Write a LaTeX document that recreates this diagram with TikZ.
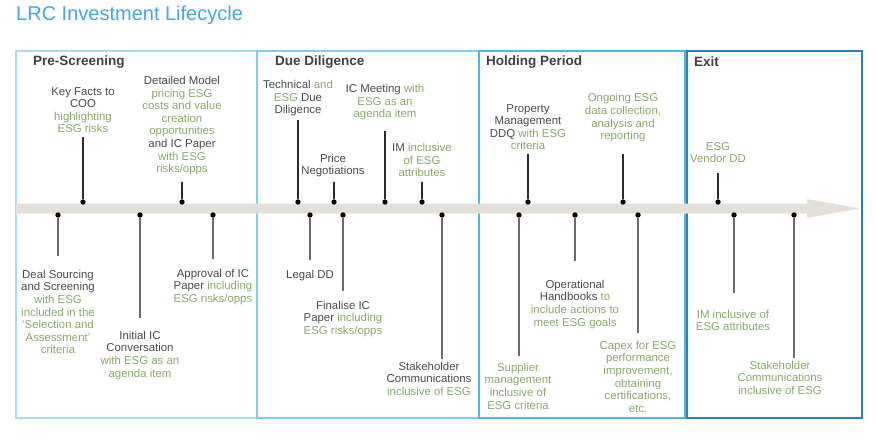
\documentclass[tikz,border=0pt]{standalone}
\usepackage{fontspec}
\setmainfont{Liberation Sans}
\definecolor{titleblue}{HTML}{3DA9E6}
\definecolor{headgray}{HTML}{404040}
\definecolor{txtgray}{HTML}{4A4A4A}
\definecolor{esg}{HTML}{86A767}
\definecolor{bandgray}{HTML}{E2E0D8}
\definecolor{stemdark}{HTML}{2B2B2B}
\definecolor{stemgray}{HTML}{6A6A6A}
\definecolor{psblue}{HTML}{A6DBF6}
\definecolor{ddblue}{HTML}{7FCDF4}
\definecolor{hpblue}{HTML}{4FB6EC}
\definecolor{exblue}{HTML}{2A80BF}
\newcommand{\g}[1]{\textcolor{esg}{#1}}

\begin{document}
\begin{tikzpicture}[x=1pt,y=-1pt,
  lbl/.style={align=center,inner sep=0pt,outer sep=0pt,text=txtgray,font=\fontsize{11.4}{12.6}\selectfont},
  dot/.style={circle,fill=black,inner sep=0pt,minimum size=5.4pt},
  upstem/.style={draw=stemdark,line width=1.3pt},
  downstem/.style={draw=stemgray,line width=1.5pt},
  phase/.style={anchor=west,inner sep=0pt,text=headgray,font=\bfseries\fontsize{13.5}{16}\selectfont}]
  \useasboundingbox (0,0) rectangle (875,441);
  \node[anchor=base west,inner sep=0pt,text=titleblue,font=\fontsize{20}{24}\selectfont] (title) at (16,21) {LRC Investment Lifecycle};

  \draw[psblue,line width=2pt] (16,51) rectangle (257,418);
  \draw[ddblue,line width=2pt] (257,51) rectangle (479,418);
  \draw[hpblue,line width=2pt] (479,51) rectangle (685,418);
  \draw[exblue,line width=2.2pt] (687,51) rectangle (862,418);
  \node[phase] (hps) at (33,62) {Pre-Screening};
  \node[phase] (hdd) at (275,62) {Due Diligence};
  \node[phase] (hhp) at (486,62) {Holding Period};
  \node[phase] (hex) at (694,62) {Exit};

  \fill[bandgray] (16,203.5) -- (807,203.5) -- (807,199) -- (860,208.5) -- (807,218) -- (807,213.5) -- (16,213.5) -- cycle;

  \node[lbl,anchor=south] (kf) at (83,133) {Key Facts to\\COO\\\g{highlighting}\\\g{ESG risks}};
  \node[lbl,anchor=south] (dm) at (182,175) {Detailed Model\\\g{pricing ESG}\\\g{costs and value}\\\g{creation}\\\g{opportunities}\\and IC Paper\\\g{with ESG}\\\g{risks/opps}};
  \node[lbl,anchor=south] (tdd) at (298,116) {Technical \g{and}\\\g{ESG} Due\\Diligence};
  \node[lbl,anchor=south] (pn) at (333,177) {Price\\Negotiations};
  \node[lbl,anchor=south] (icm) at (385,120) {IC Meeting \g{with}\\\g{ESG as an}\\\g{agenda item}};
  \node[lbl,anchor=south] (im) at (422,177) {IM \g{inclusive}\\\g{of ESG}\\\g{attributes}};
  \node[lbl,anchor=south] (pm) at (528,150) {Property\\Management\\DDQ \g{with ESG}\\\g{criteria}};
  \node[lbl,anchor=south,text=esg] (og) at (623,142) {Ongoing ESG\\data collection,\\analysis and\\reporting};
  \node[lbl,anchor=south,text=esg] (vdd) at (718,163) {ESG\\Vendor DD};

  \node[lbl,anchor=north] (ds) at (58,270) {Deal Sourcing\\and Screening\\\g{with ESG}\\\g{included in the}\\\g{`Selection and}\\\g{Assessment'}\\\g{criteria}};
  \node[lbl,anchor=north] (iic) at (140,331) {Initial IC\\Conversation\\\g{with ESG as an}\\\g{agenda item}};
  \node[lbl,anchor=north] (ap) at (213,269) {Approval of IC\\Paper \g{including}\\\g{ESG risks/opps}};
  \node[lbl,anchor=north] (ldd) at (310,270) {Legal DD};
  \node[lbl,anchor=north] (fic) at (343,301) {Finalise IC\\Paper \g{including}\\\g{ESG risks/opps}};
  \node[lbl,anchor=north] (sc) at (429,362) {Stakeholder\\Communications\\\g{inclusive of ESG}};
  \node[lbl,anchor=north,text=esg] (sm) at (518,363) {Supplier\\management\\inclusive of\\ESG criteria};
  \node[lbl,anchor=north] (oh) at (575,280) {Operational\\Handbooks \g{to}\\\g{include actions to}\\\g{meet ESG goals}};
  \node[lbl,anchor=north,text=esg] (cx) at (638,341) {Capex for ESG\\performance\\improvement,\\obtaining\\certifications,\\etc.};
  \node[lbl,anchor=north,text=esg] (eim) at (733,310) {IM inclusive of\\ESG attributes};
  \node[lbl,anchor=north,text=esg] (esc) at (780,361) {Stakeholder\\Communications\\inclusive of ESG};

  \node[dot] (kfd) at (83,202) {};
  \node[dot] (dmd) at (182,202) {};
  \node[dot] (tddd) at (298,202) {};
  \node[dot] (pnd) at (334,202) {};
  \node[dot] (icmd) at (385,202) {};
  \node[dot] (imd) at (422,202) {};
  \node[dot] (pmd) at (528,202) {};
  \node[dot] (ogd) at (623,202) {};
  \node[dot] (vddd) at (718,202) {};
  \node[dot] (dsd) at (58,215) {};
  \node[dot] (iicd) at (140,215) {};
  \node[dot] (apd) at (213,215) {};
  \node[dot] (lddd) at (310,215) {};
  \node[dot] (ficd) at (343,215) {};
  \node[dot] (scd) at (442,215) {};
  \node[dot] (smd) at (519,215) {};
  \node[dot] (ohd) at (575,215) {};
  \node[dot] (cxd) at (638,215) {};
  \node[dot] (eimd) at (734,215) {};
  \node[dot] (escd) at (794,215) {};

  \draw[upstem,shorten >=4pt] (kfd) -- (kfd |- kf.south);
  \draw[upstem,shorten >=7pt] (dmd) -- (dmd |- dm.south);
  \draw[upstem,shorten >=4pt] (tddd) -- (tddd |- tdd.south);
  \draw[upstem,shorten >=5pt] (pnd) -- (pnd |- pn.south);
  \draw[upstem,shorten >=11pt] (icmd) -- (icmd |- icm.south);
  \draw[upstem,shorten >=5pt] (imd) -- (imd |- im.south);
  \draw[upstem,shorten >=4pt] (pmd) -- (pmd |- pm.south);
  \draw[upstem,shorten >=12pt] (ogd) -- (ogd |- og.south);
  \draw[upstem,shorten >=10pt] (vddd) -- (vddd |- vdd.south);
  \draw[downstem,shorten >=14pt] (dsd) -- (dsd |- ds.north);
  \draw[downstem,shorten >=13pt] (iicd) -- (iicd |- iic.north);
  \draw[downstem,shorten >=10pt] (apd) -- (apd |- ap.north);
  \draw[downstem,shorten >=10pt] (lddd) -- (lddd |- ldd.north);
  \draw[downstem,shorten >=10pt] (ficd) -- (ficd |- fic.north);
  \draw[downstem,shorten >=3pt] (scd) -- (scd |- sc.north);
  \draw[downstem,shorten >=7pt] (smd) -- (smd |- sm.north);
  \draw[downstem,shorten >=19pt] (ohd) -- (ohd |- oh.north);
  \draw[downstem,shorten >=8pt] (cxd) -- (cxd |- cx.north);
  \draw[downstem,shorten >=17pt] (eimd) -- (eimd |- eim.north);
  \draw[downstem,shorten >=3pt] (escd) -- (escd |- esc.north);
\end{tikzpicture}
\end{document}
